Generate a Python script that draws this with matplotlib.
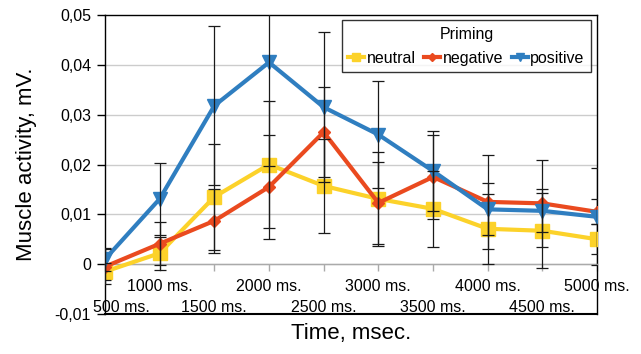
import matplotlib
matplotlib.use("Agg")
import matplotlib.pyplot as plt
import numpy as np

# data
times = ["500 ms.", "1000 ms.", "1500 ms.", "2000 ms.", "2500 ms.",
         "3000 ms.", "3500 ms.", "4000 ms.", "4500 ms.", "5000 ms."]

neutral = [-0.0015, 0.0022, 0.0135, 0.0200, 0.0157, 0.0131, 0.0111, 0.0071, 0.0067, 0.0050]
negative = [-0.0005, 0.0041, 0.0087, 0.0155, 0.0265, 0.0123, 0.0175, 0.0125, 0.0122, 0.0105]
positive = [0.0010, 0.0131, 0.0318, 0.0405, 0.0315, 0.0260, 0.0187, 0.0110, 0.0107, 0.0095]

neutral_err = [0.0017, 0.0033, 0.0106, 0.0128, 0.0095, 0.0094, 0.0076, 0.0070, 0.0075, 0.0030]
negative_err = [0.0035, 0.0043, 0.0064, 0.0105, 0.0091, 0.0082, 0.0085, 0.0095, 0.0088, 0.0025]
positive_err = [0.0023, 0.0072, 0.0160, 0.0207, 0.0150, 0.0107, 0.0080, 0.0052, 0.0043, 0.0097]

yticks = [-0.01, 0, 0.01, 0.02, 0.03, 0.04, 0.05]
ytick_labels = ["-0,01", "0", "0,01", "0,02", "0,03", "0,04", "0,05"]

series = [
    ("neutral", neutral, neutral_err, "#FCD22A", "s", 9.5),
    ("negative", negative, negative_err, "#EA4A1F", "D", 6.5),
    ("positive", positive, positive_err, "#2F7EC0", "v", 10),
]

plt.rcParams["font.family"] = ["Liberation Sans", "DejaVu Sans"]

fig = plt.figure(figsize=(6.41, 3.54), dpi=100)
ax = fig.add_axes([0.1638, 0.113, 0.7676, 0.8446])

x = np.arange(len(times))

for name, vals, err, col, mk, ms in series:
    ax.plot(x, vals, color=col, lw=3, marker=mk, markersize=ms,
            label=name, zorder=3)
for name, vals, err, col, mk, ms in series:
    ax.errorbar(x, vals, yerr=err, fmt="none", ecolor="#1a1a1a",
                elinewidth=0.9, capsize=4.5, capthick=0.9, zorder=4)

ax.set_xlim(0, len(times) - 1)
ax.set_ylim(-0.01, 0.05)
ax.set_yticks(yticks)
ax.set_yticklabels(ytick_labels, fontsize=11.5)
ax.tick_params(axis="y", direction="out", length=6, width=1, pad=4)

for y in yticks[1:-1]:
    ax.axhline(y, color="#CCCCCC", lw=1, zorder=1)

# x axis sits at zero, labels staggered in two rows
ax.spines["bottom"].set_position(("data", 0))
ax.spines["bottom"].set_color("#AAAAAA")
ax.spines["bottom"].set_linewidth(1)
ax.axhline(-0.01, color="black", lw=1.5, clip_on=False, zorder=5)
for s in ["left", "top", "right"]:
    ax.spines[s].set_linewidth(1)
    ax.spines[s].set_color("black")

lower_labels = times[0::2]
ax.set_xticks(x[1::2])
ax.set_xticklabels(times[1::2], fontsize=11.5)
ax.set_xticks(x[0::2], minor=True)
ax.set_xticklabels([""] + lower_labels[1:], minor=True, fontsize=11.5)
ax.tick_params(axis="x", which="both", direction="out", length=5,
               color="#AAAAAA", width=1)
ax.tick_params(axis="x", which="major", pad=5.5)
ax.tick_params(axis="x", which="minor", pad=20.5)
# first label is pushed right so it stays inside, like Excel does
ax.annotate(lower_labels[0], xy=(x[0], 0), xytext=(-8.5, -31),
            textcoords="offset points", ha="left", va="center",
            fontsize=11.5)

ax.set_ylabel("Muscle activity, mV.", fontsize=16, labelpad=13)
ax.set_xlabel("Time, msec.", fontsize=16, labelpad=6)

leg = ax.legend(title="Priming", ncol=3, loc="upper right",
                bbox_to_anchor=(0.988, 0.982), fontsize=11.5,
                title_fontsize=11.5, frameon=True, fancybox=False,
                handlelength=1.0, handletextpad=0.15, columnspacing=0.55,
                borderpad=0.4, borderaxespad=0, markerscale=0.6,
                labelspacing=0.55)
leg.get_frame().set_edgecolor("black")
leg.get_frame().set_linewidth(1)

fig.savefig("out.png", dpi=100)
